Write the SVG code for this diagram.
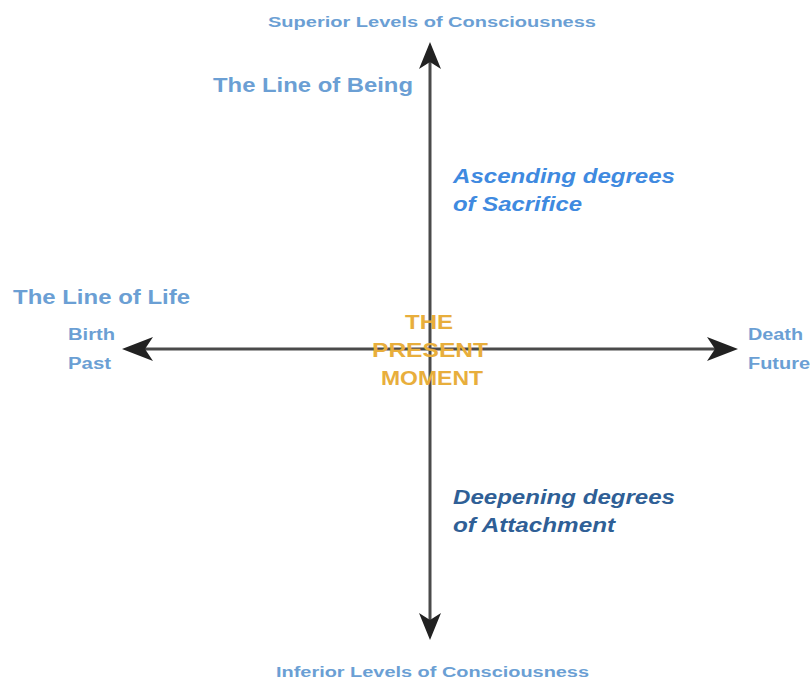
<svg xmlns="http://www.w3.org/2000/svg" width="810" height="682" viewBox="0 0 810 682">
<style>
text{font-family:"Liberation Sans",Arial,sans-serif;font-weight:bold}
.lb{fill:#6b9fd4}
.axis{stroke:#4a4a4a;stroke-width:3;fill:none}
.head{fill:#222}
.big{font-size:20px}
.sm{font-size:14px}
.md{font-size:16px}
.it{font-style:italic;font-size:20px}
.or{fill:#e8ae3c;font-size:20px;text-anchor:middle}
</style>
<rect width="810" height="682" fill="#fff"/>
<g id="connectors">
<line class="axis" x1="430" y1="349" x2="430" y2="60"/>
<line class="axis" x1="430" y1="349" x2="430" y2="622"/>
<line class="axis" x1="430" y1="349" x2="140" y2="349"/>
<line class="axis" x1="430" y1="349" x2="720" y2="349"/>
<path class="head" d="M430,42 L441,69 L430,62 L419,69 Z"/>
<path class="head" d="M430,640 L441,613 L430,620 L419,613 Z"/>
<path class="head" d="M122,349 L153,337 L145,349 L153,361 Z"/>
<path class="head" d="M738,349 L707,337 L715,349 L707,361 Z"/>
</g>
<g id="superior"><text class="lb sm" x="268" y="27" textLength="328" lengthAdjust="spacingAndGlyphs">Superior Levels of Consciousness</text></g>
<g id="line-of-being"><text class="lb big" x="213" y="92" textLength="200" lengthAdjust="spacingAndGlyphs">The Line of Being</text></g>
<g id="ascending"><text class="it" fill="#3f8ae0" x="453" y="183" textLength="222" lengthAdjust="spacingAndGlyphs">Ascending degrees</text><text class="it" fill="#3f8ae0" x="453" y="211" textLength="129" lengthAdjust="spacingAndGlyphs">of Sacrifice</text></g>
<g id="line-of-life"><text class="lb big" x="13" y="304" textLength="177" lengthAdjust="spacingAndGlyphs">The Line of Life</text></g>
<g id="birth"><text class="lb md" x="68" y="340" textLength="47" lengthAdjust="spacingAndGlyphs">Birth</text><text class="lb md" x="68" y="369" textLength="43" lengthAdjust="spacingAndGlyphs">Past</text></g>
<g id="death"><text class="lb md" x="748" y="340" textLength="55" lengthAdjust="spacingAndGlyphs">Death</text><text class="lb md" x="748" y="369" textLength="62" lengthAdjust="spacingAndGlyphs">Future</text></g>
<g id="present"><text class="or" x="429" y="329" textLength="48" lengthAdjust="spacingAndGlyphs">THE</text><text class="or" x="430" y="357" textLength="116" lengthAdjust="spacingAndGlyphs">PRESENT</text><text class="or" x="432" y="385" textLength="102" lengthAdjust="spacingAndGlyphs">MOMENT</text></g>
<g id="deepening"><text class="it" fill="#2f5f96" x="453" y="504" textLength="222" lengthAdjust="spacingAndGlyphs">Deepening degrees</text><text class="it" fill="#2f5f96" x="453" y="532" textLength="162" lengthAdjust="spacingAndGlyphs">of Attachment</text></g>
<g id="inferior"><text class="lb sm" x="276" y="677" textLength="313" lengthAdjust="spacingAndGlyphs">Inferior Levels of Consciousness</text></g>
</svg>
